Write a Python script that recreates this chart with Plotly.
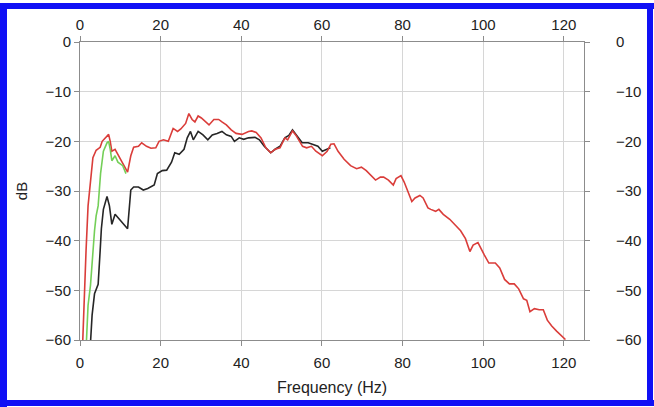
import plotly.graph_objects as go

# ---- data ----
red_freq = [0.6, 1.0, 1.5, 2.0, 2.6, 3.2, 4.0, 5.0, 5.5, 6.3, 7.1, 7.5, 7.9, 8.7, 9.4, 10.6, 11.8,
            12.6, 13.3, 14.5, 15.3, 16.5, 17.6, 18.8, 19.6, 20.7, 21.9, 23.1, 24.2, 25.0, 26.2,
            27.0, 27.8, 28.5, 29.3, 30.1, 31.3, 32.0, 33.2, 34.4, 35.2, 36.3, 37.5, 38.7, 40.2,
            41.8, 42.6, 43.7, 44.9, 46.1, 47.3, 48.4, 49.6, 50.8, 51.5, 52.7, 53.5, 54.3, 55.2,
            56.2, 57.4, 58.5, 60.1, 61.3, 62.2, 63.0, 64.0, 65.5, 67.1, 68.6, 69.8, 71.0, 72.1,
            73.3, 74.5, 75.3, 76.5, 77.7, 78.4, 79.6, 80.4, 81.2, 82.3, 83.1, 84.3, 85.1, 86.3,
            87.0, 88.2, 89.0, 90.1, 91.7, 92.9, 94.4, 95.6, 96.7, 97.5, 98.7, 100.3, 101.4,
            103.0, 104.1, 105.3, 106.5, 107.7, 108.8, 110.0, 110.8, 111.6, 112.7, 113.9, 114.9,
            115.9, 117.0, 118.2, 119.4, 120.4]
red_db = [-62, -52, -42, -33, -28.5, -23.3, -21.8, -21.2, -20.0, -19.3, -18.6, -20, -22, -21.6,
          -22.6, -24.2, -26.2, -22.9, -21.2, -21, -20.3, -21, -21.4, -21.3, -20, -19.7, -20,
          -17.4, -18, -17.5, -16.4, -14.4, -15.6, -16.1, -14.9, -15.3, -16.2, -16.7, -15.6,
          -15.6, -16.1, -16.7, -17.7, -18.4, -18.6, -18.0, -17.9, -18.2, -19.3, -21.3, -22.3,
          -21.6, -21.3, -19.3, -19.7, -17.9, -18.7, -19.7, -21, -21.3, -21, -22, -22.9, -22,
          -20.6, -20.5, -22, -23.6, -24.9, -25.5, -25.2, -25.9, -26.8, -27.8, -27.2, -27.2,
          -27.8, -28.8, -27.5, -26.9, -28.2, -29.8, -32.1, -31.4, -30.9, -31.4, -33.4, -33.7,
          -34.1, -33.7, -34.7, -35.7, -36.7, -38.0, -39.6, -42.2, -40.9, -40.4, -42.9, -44.5,
          -44.5, -45.5, -47.8, -48.7, -48.7, -49.7, -51.7, -52, -54.3, -53.7, -53.9, -53.9,
          -56, -57.2, -58.2, -59.2, -59.9]

black_freq = [2.5, 3.0, 3.6, 4.5, 5.0, 5.3, 5.8, 6.7, 7.3, 7.9, 8.7, 9.8, 11.0, 11.8, 12.6, 13.3,
              14.5, 15.7, 16.8, 18.4, 19.2, 20.4, 21.5, 22.7, 23.5, 24.6, 25.8, 26.6, 27.4,
              28.1, 29.3, 30.5, 31.7, 32.8, 34.0, 35.2, 36.3, 37.5, 38.3, 39.5, 40.6, 41.8,
              43.4, 44.5, 45.7, 47.3, 48.4, 49.6, 50.8, 51.8, 52.7, 53.9, 55.1, 56.6, 57.8,
              59.0, 60.1, 61.3, 62.1]
black_db = [-62, -55, -50.7, -48.8, -42, -37.6, -33.7, -31.1, -33, -36.7, -34.7, -35.7, -37,
            -37.6, -29.8, -29.2, -29.2, -29.8, -29.5, -28.8, -26.5, -25.9, -25.8, -24.2, -22.3,
            -22.6, -21.6, -19.3, -18.0, -19.7, -18.0, -18.7, -19.7, -18.7, -18.4, -18.0, -18.7,
            -19.0, -20, -19.3, -19.6, -19.3, -19.2, -19.7, -21, -22.3, -21.6, -21.0, -19.3,
            -18.8, -17.7, -19, -20.3, -20.3, -20.6, -21, -22, -21.6, -21.3]

green_freq = [1.5, 2.0, 2.6, 3.1, 3.6, 4.0, 4.5, 5.1, 5.8, 6.7, 7.1, 7.5, 7.9, 8.7, 9.4, 10.6, 11.4]
green_db = [-62, -53, -49, -43, -38, -35, -33, -26.5, -22, -20.3, -20, -21.6, -23.9, -22.9,
            -24.2, -24.9, -26.5]

x_ticks = [0, 20, 40, 60, 80, 100, 120]
y_ticks = [0, -10, -20, -30, -40, -50, -60]

# ---- figure ----
W, H = 654, 407
ML, MR, MT, MB = 80, 70, 42, 67
PW, PH = W - ML - MR, H - MT - MB

FONT = "Liberation Sans, Arial, sans-serif"

fig = go.Figure()
fig.add_trace(go.Scatter(x=black_freq, y=black_db, mode="lines",
                         line=dict(color="#262626", width=1.6), showlegend=False))
fig.add_trace(go.Scatter(x=red_freq, y=red_db, mode="lines",
                         line=dict(color="#da3d3a", width=1.6), showlegend=False))
fig.add_trace(go.Scatter(x=green_freq, y=green_db, mode="lines",
                         line=dict(color="#74cf58", width=1.6), showlegend=False))
# invisible trace to activate the mirrored top/right axes
fig.add_trace(go.Scatter(x=[0], y=[0], xaxis="x2", yaxis="y2", mode="markers",
                         marker=dict(opacity=0), showlegend=False, hoverinfo="skip"))

axis_common = dict(
    ticks="outside", ticklen=5, tickcolor="#8c8c8c", tickwidth=1,
    showline=True, linecolor="#8c8c8c", linewidth=1,
    tickfont=dict(family=FONT, size=15, color="#222"),
    zeroline=False,
)

fig.update_layout(
    width=W, height=H,
    margin=dict(l=ML, r=MR, t=MT, b=MB, pad=0),
    paper_bgcolor="white", plot_bgcolor="white",
    xaxis=dict(range=[0, 125], tickvals=x_ticks, showgrid=True, gridcolor="#d6d6d6",
               gridwidth=1, ticklabelstandoff=4,
               title=dict(text="Frequency (Hz)", font=dict(family=FONT, size=16, color="#222"),
                          standoff=11),
               **axis_common),
    yaxis=dict(range=[-60, 0], tickvals=y_ticks, showgrid=True, gridcolor="#d6d6d6",
               gridwidth=1, title=dict(text="dB", font=dict(family=FONT, size=15, color="#222"),
                                       standoff=14),
               **axis_common),
    xaxis2=dict(range=[0, 125], tickvals=x_ticks, overlaying="x", side="top",
                showgrid=False, **axis_common),
    yaxis2=dict(range=[-60, 0], tickvals=y_ticks, overlaying="y", side="right",
                showgrid=False, ticklabelstandoff=23, **axis_common),
)


def px_x(p):
    return (p - ML) / PW


def px_y(p):
    return (H - MB - p) / PH


BLUE = "#1010f5"
for (x0, y0, x1, y1) in [(0, 3, 654, 9), (0, 3, 7, 407), (0, 400, 654, 406), (647, 3, 653, 406)]:
    fig.add_shape(type="rect", xref="paper", yref="paper",
                  x0=px_x(x0), x1=px_x(x1), y0=px_y(y1), y1=px_y(y0),
                  fillcolor=BLUE, line=dict(width=0), layer="above")

fig.write_html("out.html", config={"displayModeBar": False},
               post_script="document.body.style.margin='0px';")
